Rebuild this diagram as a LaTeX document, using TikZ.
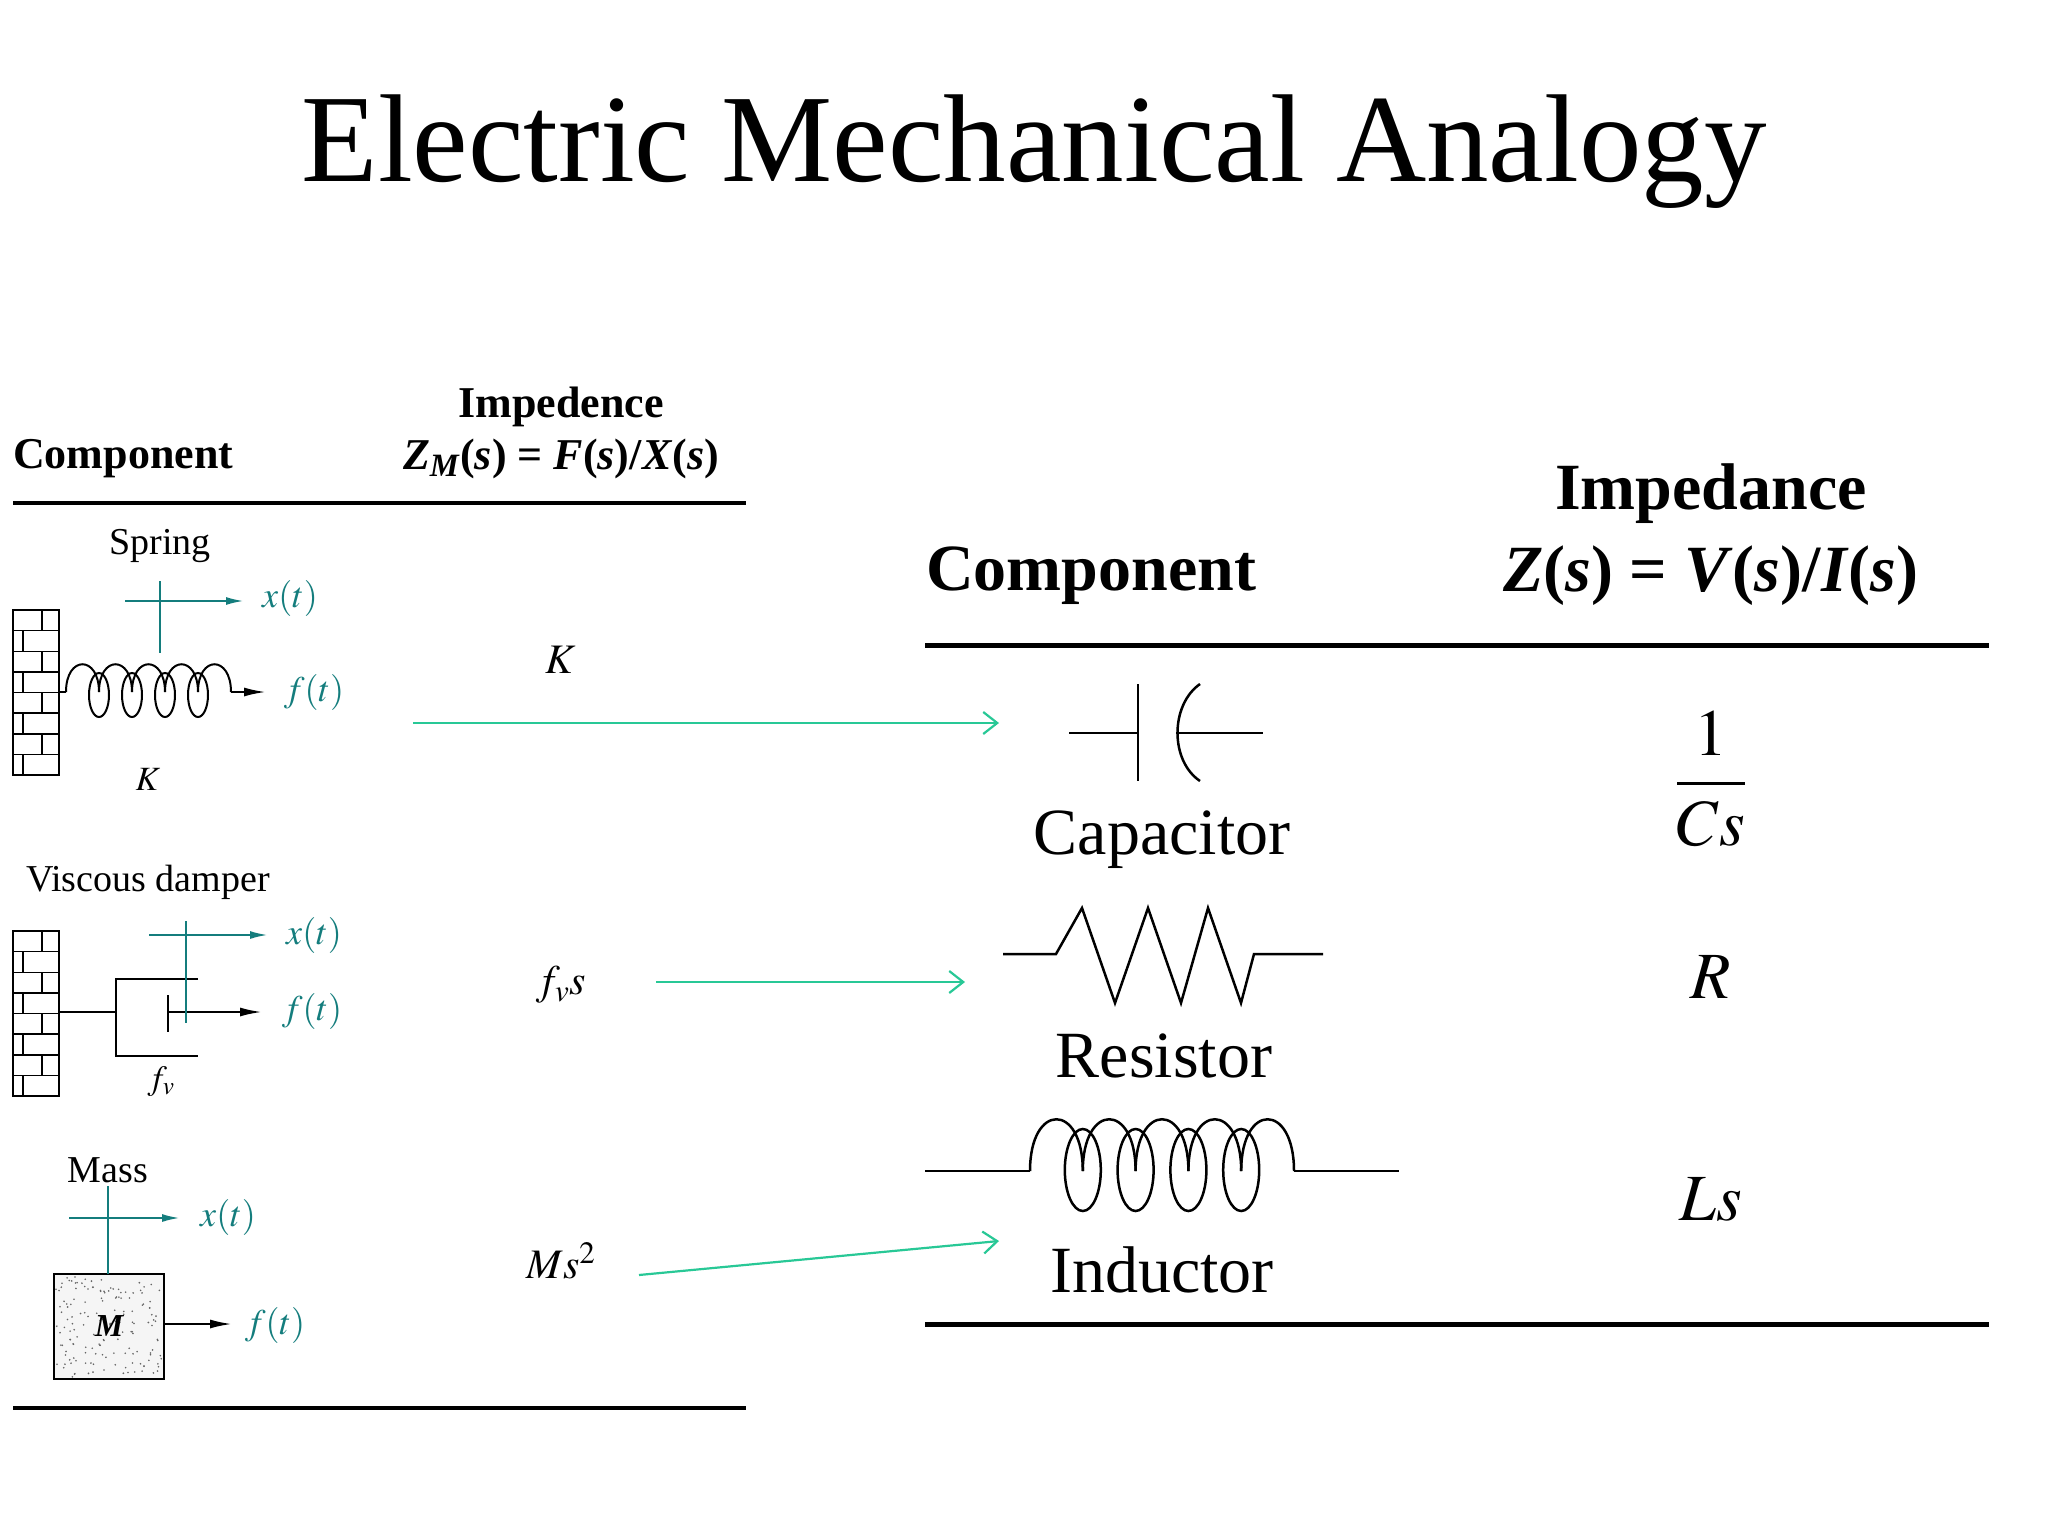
\documentclass[tikz,border=0pt]{standalone}
\usepackage{mathptmx}
\usepackage{fontspec}
\setmainfont{Liberation Serif}
\usetikzlibrary{arrows.meta}
\definecolor{teal1}{RGB}{20,125,125}
\definecolor{grn}{RGB}{40,200,150}
\newcommand{\bi}[1]{\textbf{\textit{#1}}}
\tikzset{
 lbl/.style={inner sep=0pt,font=\fontsize{38}{40}\selectfont},
 mlbl/.style={inner sep=0pt,font=\fontsize{36}{38}\selectfont,text=teal1},
 tick/.style={draw=teal1,line width=2.2pt},
 tarrow/.style={tick,-{Latex[length=18pt,width=8pt]}},
 karrow/.style={line width=2.2pt,-{Latex[length=22pt,width=9pt]}},
 map/.style={draw=grn,line width=2.2pt,-{Straight Barb[length=14pt,width=22pt]}},
 rule/.style={line width=4pt},
 big/.style={inner sep=0pt,font=\fontsize{66}{68}\selectfont},
 lhead/.style={inner sep=0pt,font=\bfseries\fontsize{44}{46}\selectfont},
 rhead/.style={inner sep=0pt,font=\bfseries\fontsize{66}{68}\selectfont},
 wire/.style={line width=2.5pt},
}
\newcommand{\brickwall}[4]{% x1 y1 x2 y2
 \draw[line width=2pt] (#1,#2) rectangle (#3,#4);
 \foreach \k in {0,...,7}{
   \pgfmathsetmacro{\yy}{#2+\k*(#4-#2)/8}
   \pgfmathsetmacro{\yn}{#2+(\k+1)*(#4-#2)/8}
   \pgfmathsetmacro{\xb}{mod(\k,2)==0 ? (#1+#3)/2+6 : #1+10}
   \ifnum\k>0 \draw[line width=1.5pt] (#1,\yy) -- (#3,\yy);\fi
   \draw[line width=1.5pt] (\xb,\yy) -- (\xb,\yn);
 }}
% coil: x0 x1 ylead yctrl ecenter rx ry width
\newcommand{\coil}[8]{%
 \pgfmathsetmacro{\pp}{(#2-#1)/5}
 \foreach \k in {0,...,4}{
   \pgfmathsetmacro{\xa}{#1+\k*\pp}
   \pgfmathsetmacro{\xc}{#1+(\k+1)*\pp}
   \draw[line width=#8] (\xa,#3) .. controls (\xa,#4) and (\xc,#4) .. (\xc,#3);
   \ifnum\k>0 \draw[line width=#8] (\xa,#5) ellipse [x radius=#6,y radius=#7];\fi
 }}
\begin{document}
\begin{tikzpicture}[x=1pt,y=-1pt]
\useasboundingbox (0,0) rectangle (2048,1536);
\fill[white] (0,0) rectangle (2048,1536);
\node[inner sep=0pt,font=\fontsize{125}{127}\selectfont] (title) at (1034,152) {Electric Mechanical Analogy};

% left table
\node[lhead,anchor=west] (lcomp) at (13,459) {Component};
\node[lhead] (limp) at (561,407) {Impedence};
\node[lhead] (lform) at (561,459) {\bi{Z}\textsubscript{\bi{M}}(\bi{s}) = \bi{F}(\bi{s})/\bi{X}(\bi{s})};
\draw[rule] (13,503) -- (746,503);
\draw[rule] (13,1408) -- (746,1408);

% spring
\node[lbl] (springl) at (160,546) {Spring};
\brickwall{13}{610}{59}{775}
\draw[line width=2pt] (59,692) -- (66,692);
\coil{66}{231}{692}{655}{695}{10}{22}{2pt}
\draw[karrow] (231,692) -- (266,692);
\node[mlbl] (sf) at (314,692) {$f(t)$};
\draw[tick] (160,581) -- (160,653);
\draw[tarrow] (125,601) -- (244,601);
\node[mlbl] (sx) at (290,598) {$x(t)$};
\node[lbl,font=\fontsize{34}{36}\selectfont] (sK) at (148,779) {$K$};

% damper
\node[lbl] (dampl) at (148,882) {Viscous damper};
\brickwall{13}{931}{59}{1096}
\draw[wire] (59,1012) -- (116,1012);
\draw[wire] (198,979) -- (116,979) -- (116,1056) -- (198,1056);
\draw[wire] (168,995) -- (168,1032);
\draw[karrow] (168,1012) -- (262,1012);
\node[mlbl] (df) at (312,1011) {$f(t)$};
\draw[tick] (186,921) -- (186,1023);
\draw[tarrow] (149,935) -- (268,935);
\node[mlbl] (dx) at (314,935) {$x(t)$};
\node[lbl,font=\fontsize{34}{36}\selectfont] (dfv) at (161,1082) {$f_v$};

% mass
\node[lbl] (massl) at (108,1170) {Mass};
\draw[line width=2.5pt,fill=gray!8] (54,1274) rectangle (164,1379);
\pgfmathsetseed{7}
\foreach \i in {1,...,160}{
  \fill[black!60] ({56+106*rnd},{1276+101*rnd}) circle (0.9pt);
}
\node[lbl,font=\bfseries\itshape\fontsize{32}{34}\selectfont] (mM) at (109,1326) {M};
\draw[karrow] (164,1324) -- (232,1324);
\node[mlbl] (mf) at (275,1325) {$f(t)$};
\draw[tick] (108,1186) -- (108,1274);
\draw[tarrow] (69,1218) -- (180,1218);
\node[mlbl] (mx) at (228,1217) {$x(t)$};

% middle labels
\node[lbl,font=\fontsize{42}{44}\selectfont] (zK) at (561,660) {$K$};
\node[lbl,font=\fontsize{42}{44}\selectfont] (zf) at (561,985) {$f_v s$};
\node[lbl,font=\fontsize{42}{44}\selectfont] (zM) at (561,1261) {$Ms^2$};
\coordinate (a1s) at (413,723); \coordinate (a1e) at (999,723);
\coordinate (a2s) at (656,982); \coordinate (a2e) at (965,982);
\coordinate (a3s) at (639,1275); \coordinate (a3e) at (999,1241);
\draw[map] (a1s) -- (a1e);
\draw[map] (a2s) -- (a2e);
\draw[map] (a3s) -- (a3e);

% right table
\node[rhead] (rimp) at (1711,494) {Impedance};
\node[rhead,anchor=west] (rcomp) at (926,576) {Component};
\node[rhead] (rform) at (1711,576) {\bi{Z}(\bi{s}) = \bi{V}(\bi{s})/\bi{I}(\bi{s})};
\draw[line width=5pt] (925,645) -- (1989,645);
\draw[line width=5pt] (925,1324) -- (1989,1324);

% capacitor
\draw[wire] (1069,733) -- (1138,733);
\draw[wire] (1138,684) -- (1138,781);
\draw[wire] (1200,684) .. controls (1170,705) and (1170,761) .. (1200,781);
\draw[wire] (1176,733) -- (1263,733);
\node[big] (capl) at (1162,840) {Capacitor};
\node[big] (cz) at (1711,779) {$\displaystyle\frac{1}{Cs}$};

% resistor
\draw[wire] (1003,954) -- (1056,954) -- (1082,908) -- (1115,1003) -- (1148,908) -- (1181,1003) -- (1208,908) -- (1241,1003) -- (1254,954) -- (1323,954);
\node[big] (resl) at (1164,1056) {Resistor};
\node[big] (rz) at (1711,977) {$R$};

% inductor
\draw[wire] (925,1171) -- (1030,1171);
\coil{1030}{1294}{1171}{1102}{1170}{18}{41}{2.5pt}
\draw[wire] (1294,1171) -- (1399,1171);
\node[big] (indl) at (1162,1270) {Inductor};
\node[big] (lz) at (1711,1199) {$Ls$};
\end{tikzpicture}
\end{document}
